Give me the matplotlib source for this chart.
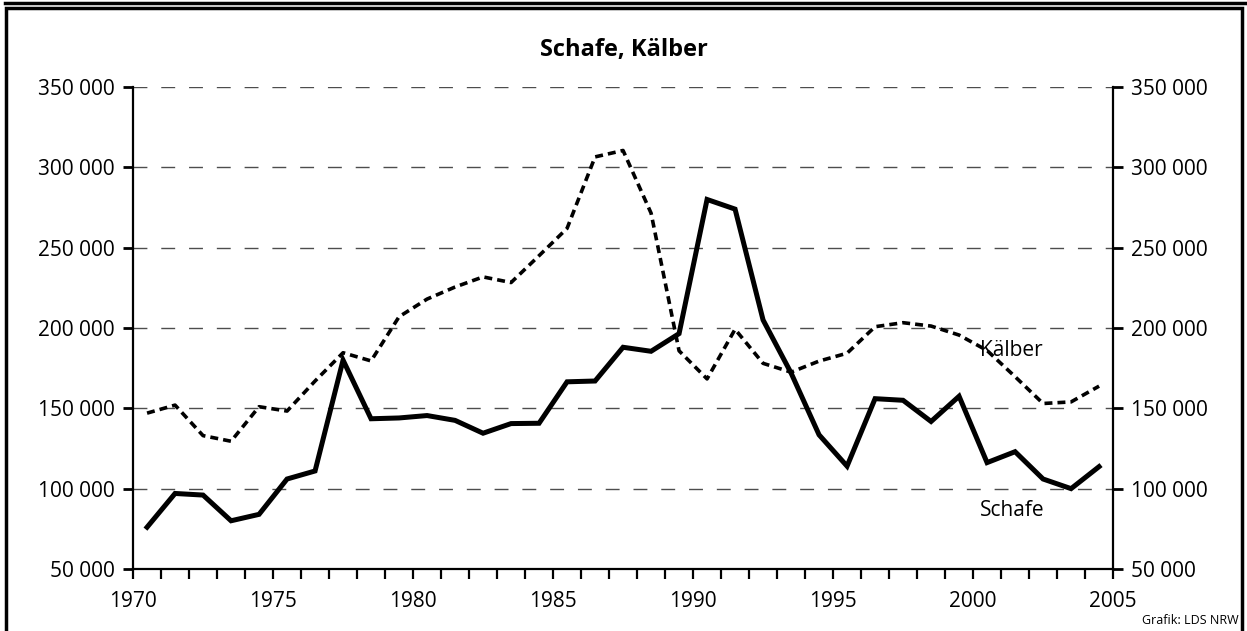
import numpy as np
import matplotlib
matplotlib.use("Agg")
import matplotlib.pyplot as plt
from matplotlib.ticker import FuncFormatter, MultipleLocator

plt.rcParams['font.family'] = ['Open Sans', 'DejaVu Sans']

# Daten
jahre = np.arange(1970, 2005)
schafe = [76000, 97000, 96000, 80000, 84000, 106000, 111000, 180000, 143500, 144000,
          145500, 142500, 134500, 140500, 140700, 166500, 167000, 188000, 185500, 196500,
          280000, 274000, 205000, 172000, 133500, 114000, 156000, 155000, 141800, 157500,
          116200, 123000, 106000, 100000, 113700]
kaelber = [147000, 152000, 133000, 129500, 151000, 148300, 167000, 184600, 179500, 207000,
           218000, 225500, 231800, 228300, 245000, 262000, 306500, 310500, 271500, 185800,
           168300, 199200, 178000, 172500, 179400, 184300, 200800, 203300, 201200, 195600,
           186000, 169700, 153000, 154000, 163800]
yticks = [50000, 100000, 150000, 200000, 250000, 300000, 350000]

fig = plt.figure(figsize=(12.47, 6.31), dpi=100)
ax = fig.add_axes([0.1067, 0.0983, 0.7859, 0.7638])

x = jahre + 0.5
ax.plot(x, schafe, color='black', lw=3.6, solid_joinstyle='miter', zorder=3)
ax.plot(x, kaelber, color='black', lw=2.6, dashes=(2.2, 1.4), zorder=3)

ax.set_xlim(1970, 2005)
ax.set_ylim(50000, 350000)
ax.set_yticks(yticks)
ax.set_xticks(range(1970, 2006, 5))
ax.xaxis.set_minor_locator(MultipleLocator(1))
fmt = FuncFormatter(lambda v, p: f"{int(v):,}".replace(",", " "))
ax.yaxis.set_major_formatter(fmt)

for y in yticks[1:]:
    ax.axhline(y, color='#4d4d4d', lw=1.0, dashes=(10, 10), zorder=1)

ax.spines['top'].set_visible(False)
for s in ['left', 'right', 'bottom']:
    ax.spines[s].set_linewidth(1.6)
ax.tick_params(axis='y', which='major', length=7, width=2, labelsize=15, left=True, right=True,
               labelleft=True, labelright=True, pad=6)
ax.tick_params(axis='x', which='both', length=7, width=1.6, direction='out', labelsize=15, pad=9)

fig.text(0.5, 0.921, 'Schafe, Kälber', ha='center', va='center', fontsize=17, fontweight='bold')
ax.text(2000.25, 186000, 'Kälber', fontsize=15, ha='left', va='center')
ax.text(2000.25, 86500, 'Schafe', fontsize=15, ha='left', va='center')
fig.text(0.993, 0.006, 'Grafik: LDS NRW', ha='right', va='bottom', fontsize=9)

# Rahmen
fig.add_artist(plt.Line2D([0.004, 0.998], [0.996, 0.996], color='black', lw=2.5))
fig.add_artist(plt.Rectangle((0.005, -0.01), 0.991, 0.997, fill=False, ec='black', lw=2.5,
                             transform=fig.transFigure))

fig.savefig('out.png', dpi=100)
